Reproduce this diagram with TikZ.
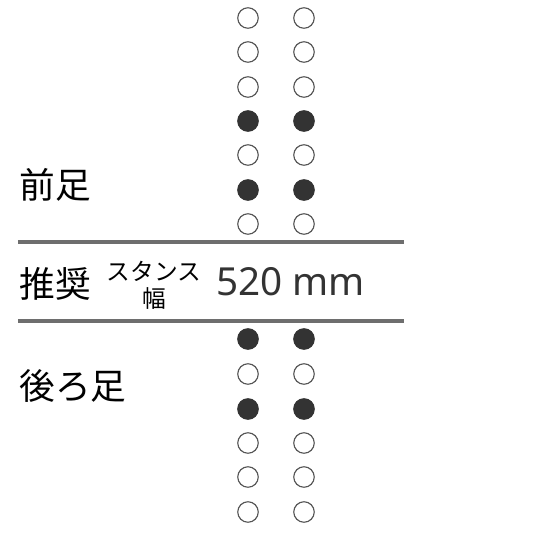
\documentclass[tikz,border=0pt]{standalone}
\usepackage{fontspec}
\setmainfont{Noto Sans}
\newfontfamily\jpfont{Noto Sans CJK JP}
\definecolor{bargray}{HTML}{6E6E6E}
\definecolor{dotgray}{HTML}{333333}
\definecolor{ringgray}{HTML}{555555}
\tikzset{
  hole/.style={circle,draw=ringgray,line width=0.65pt,minimum size=4.1mm,inner sep=0pt},
  usedhole/.style={hole,fill=dotgray,draw=dotgray},
  bar/.style={bargray,line width=2.3pt},
  jplabel/.style={font=\jpfont\fontsize{20.3}{22}\selectfont,inner sep=0pt,anchor=west},
}
\begin{document}
\begin{tikzpicture}[scale=0.2]
\useasboundingbox (0,0) rectangle (55,-55);
% front foot holes
\node [hole] (fl1) at (24.8,-1.8) {};
\node [hole] (fr1) at (30.4,-1.8) {};
\node [hole] (fl2) at (24.8,-5.2) {};
\node [hole] (fr2) at (30.4,-5.2) {};
\node [hole] (fl3) at (24.8,-8.7) {};
\node [hole] (fr3) at (30.4,-8.7) {};
\node [usedhole] (fl4) at (24.8,-12.1) {};
\node [usedhole] (fr4) at (30.4,-12.1) {};
\node [hole] (fl5) at (24.8,-15.5) {};
\node [hole] (fr5) at (30.4,-15.5) {};
\node [usedhole] (fl6) at (24.8,-19) {};
\node [usedhole] (fr6) at (30.4,-19) {};
\node [hole] (fl7) at (24.8,-22.4) {};
\node [hole] (fr7) at (30.4,-22.4) {};
% rear foot holes
\node [usedhole] (rl1) at (24.8,-33.9) {};
\node [usedhole] (rr1) at (30.4,-33.9) {};
\node [hole] (rl2) at (24.8,-37.4) {};
\node [hole] (rr2) at (30.4,-37.4) {};
\node [usedhole] (rl3) at (24.8,-40.9) {};
\node [usedhole] (rr3) at (30.4,-40.9) {};
\node [hole] (rl4) at (24.8,-44.3) {};
\node [hole] (rr4) at (30.4,-44.3) {};
\node [hole] (rl5) at (24.8,-47.7) {};
\node [hole] (rr5) at (30.4,-47.7) {};
\node [hole] (rl6) at (24.8,-51.2) {};
\node [hole] (rr6) at (30.4,-51.2) {};
% stance bars
\coordinate (barAL) at (1.8,-24.2);
\coordinate (barAR) at (40.4,-24.2);
\coordinate (barBL) at (1.8,-32.1);
\coordinate (barBR) at (40.4,-32.1);
\draw [bar] (barAL) -- (barAR);
\draw [bar] (barBL) -- (barBR);
% labels
\node [jplabel] (front) at (1.9,-18.5) {前足};
\node [jplabel] (rec) at (1.9,-28.4) {推奨};
\node [jplabel] (rear) at (1.9,-38.6) {後ろ足};
\node [font=\jpfont\fontsize{13.5}{14}\selectfont,inner sep=0pt] (stance) at (15.4,-27.1) {スタンス};
\node [font=\jpfont\fontsize{13.5}{14}\selectfont,inner sep=0pt] (width) at (15.4,-29.8) {幅};
\node [font=\fontsize{22}{24}\selectfont,text=dotgray,inner sep=0pt,anchor=west] (value) at (21.6,-28.2) {520 mm};
\end{tikzpicture}
\end{document}
